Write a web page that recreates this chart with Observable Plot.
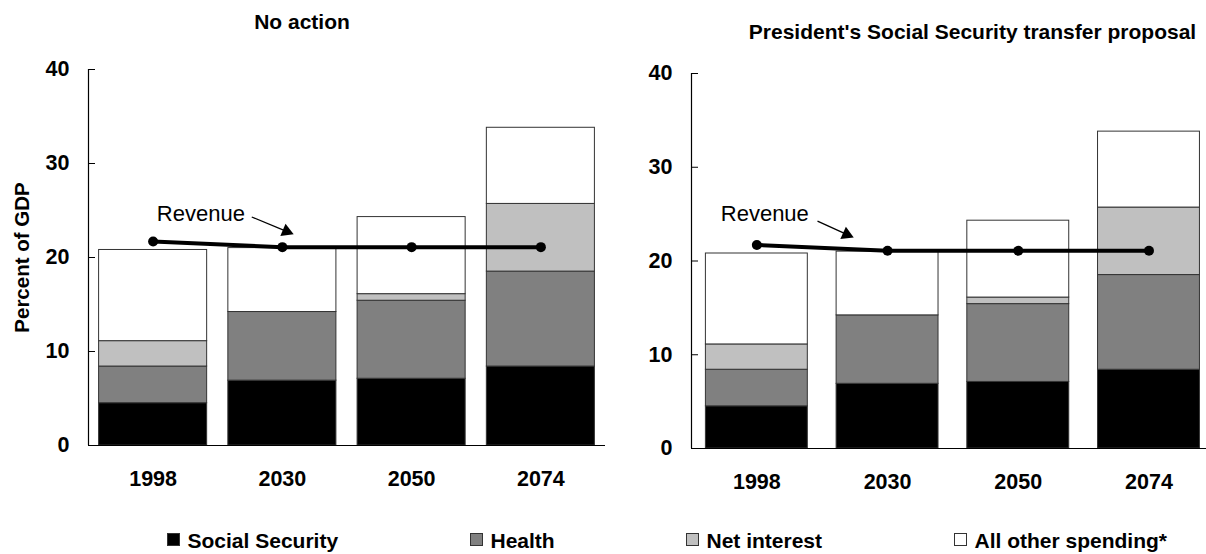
<!DOCTYPE html>
<html>
<head>
<meta charset="utf-8">
<script src="https://cdn.jsdelivr.net/npm/d3@7"></script>
<script src="https://cdn.jsdelivr.net/npm/@observablehq/plot@0.6"></script>
<style>
  html, body { margin: 0; padding: 0; background: #fff; }
  body { width: 1206px; height: 554px; overflow: hidden; position: relative;
         font-family: "Liberation Sans", Arial, sans-serif; }
  .abs { position: absolute; }
  .title { font-weight: bold; font-size: 21px; line-height: 21px; white-space: nowrap; color: #000; }
  .leg-sw { position: absolute; width: 13px; height: 13px; box-sizing: border-box; border: 1px solid #333; }
  .leg-tx { position: absolute; font-weight: bold; font-size: 21px; line-height: 21px; white-space: nowrap; color: #000; }
  svg { overflow: visible; }
</style>
</head>
<body>
<script>
// ---- Data (percent of GDP); both panels show the same values ----
const years = ["1998", "2030", "2050", "2074"];
const categories = ["Social Security", "Health", "Net interest", "All other spending*"];
const socialSecurity = [4.5, 6.9, 7.1, 8.4];
const health = [3.9, 7.3, 8.3, 10.1];
const netInterest = [2.7, 0.0, 0.7, 7.2];
const allOtherSpending = [9.7, 6.8, 8.2, 8.1];
const revenue = [21.7, 21.1, 21.1, 21.1];
const yTicks = [0, 10, 20, 30, 40];
const panelTitles = ["No action", "President's Social Security transfer proposal"];
const yAxisLabel = "Percent of GDP";
const revenueLabel = "Revenue";
const fillColors = ["#000000", "#808080", "#c0c0c0", "#ffffff"];

// long table for stacking
const series = [socialSecurity, health, netInterest, allOtherSpending];
const table = [];
years.forEach((yr, i) => {
  categories.forEach((c, k) => table.push({pos: i, year: yr, category: c, value: series[k][i]}));
});
const revenueRows = years.map((yr, i) => ({pos: i + 0.5, year: yr, value: revenue[i]}));

const FONT = "'Liberation Sans', Arial, sans-serif";

function makePanel(cfg) {
  const a = cfg.annotation;
  const marks = [
    Plot.rectY(table, {
      x: "pos", y: "value", fill: "category", interval: 1,
      insetLeft: cfg.inset, insetRight: cfg.inset,
      stroke: "#333", strokeWidth: 1
    }),
    Plot.ruleY([0], {stroke: "#000", strokeWidth: 1.2}),
    Plot.ruleX([0], {y1: 0, y2: 40, stroke: "#000", strokeWidth: 1.2}),
    Plot.axisY(yTicks, {tickSize: -7, fill: "none", stroke: "#000"}),
    Plot.axisY(yTicks, {tickSize: 0, tickPadding: 19, fontSize: 21.5, fontWeight: "bold", fill: "#000", label: null}),
    Plot.axisX(revenueRows.map(d => d.pos), {
      tickSize: 0, tickPadding: 25, fontSize: 21.5, fontWeight: "bold", fill: "#000",
      tickFormat: d => years[Math.floor(d)], label: null
    }),
    Plot.line(revenueRows, {x: "pos", y: "value", stroke: "#000", strokeWidth: 4}),
    Plot.dot(revenueRows, {x: "pos", y: "value", r: 5, fill: "#000"}),
    Plot.text([a], {x: "tx", y: "ty", text: () => revenueLabel, textAnchor: "start",
      fontSize: 22, fontWeight: "normal", fill: "#000"}),
    Plot.link([a], {x1: "ax1", y1: "ay1", x2: "ax2", y2: "ay2", stroke: "#000", strokeWidth: 1.3}),
    Plot.dot([a], {x: "ax2", y: "ay2", symbol: "triangle", r: 5, fill: "#000", rotate: a.angle})
  ];
  if (cfg.showYLabel) {
    marks.push(Plot.text([yAxisLabel], {frameAnchor: "left", textAnchor: "middle", rotate: -90, dx: -66,
      fontSize: 20.5, fontWeight: "bold", fill: "#000"}));
  }
  return Plot.plot({
    width: cfg.width, height: cfg.height,
    marginLeft: cfg.marginLeft, marginRight: cfg.marginRight,
    marginTop: cfg.marginTop, marginBottom: cfg.marginBottom,
    style: {fontFamily: FONT, fontSize: "21px", background: "transparent", overflow: "visible", color: "#000"},
    x: {type: "linear", domain: cfg.xDomain},
    y: {domain: [0, 40]},
    color: {domain: categories, range: fillColors},
    marks
  });
}

const left = makePanel({
  width: 620, height: 500, marginLeft: 88, marginRight: 15, marginTop: 69, marginBottom: 55,
  xDomain: [0, 4], inset: 10.6, showYLabel: true,
  annotation: {tx: 0.529, ty: 24.6, ax1: 1.263, ay1: 24.31, ax2: 1.532, ay2: 22.78, angle: 112.6}
});
const right = makePanel({
  width: 606, height: 500, marginLeft: 91, marginRight: 0, marginTop: 73, marginBottom: 52,
  xDomain: [0, 3.94], inset: 14.4, showYLabel: false,
  annotation: {tx: 0.224, ty: 25.0, ax1: 0.964, ay1: 24.25, ax2: 1.187, ay2: 22.84, angle: 114.4}
});

function place(el, x, y) {
  const wrap = document.createElement("div");
  wrap.className = "abs";
  wrap.style.left = x + "px";
  wrap.style.top = y + "px";
  wrap.appendChild(el);
  document.body.appendChild(wrap);
  return wrap;
}
place(left, 0, 0);
place(right, 600, 0);

// titles
const titleSpecs = [{cx: 302, top: 10.5}, {cx: 972.5, top: 20.5}];
panelTitles.forEach((t, i) => {
  const d = document.createElement("div");
  d.className = "abs title";
  d.textContent = t;
  d.style.top = titleSpecs[i].top + "px";
  d.style.left = titleSpecs[i].cx + "px";
  d.style.transform = "translateX(-50%)";
  document.body.appendChild(d);
});

// legend
const legendSwatchX = [167, 470, 686, 954];
categories.forEach((c, i) => {
  const sw = document.createElement("div");
  sw.className = "leg-sw";
  sw.style.left = legendSwatchX[i] + "px";
  sw.style.top = "533px";
  sw.style.background = fillColors[i];
  document.body.appendChild(sw);
  const tx = document.createElement("div");
  tx.className = "leg-tx";
  tx.textContent = c;
  tx.style.left = (legendSwatchX[i] + 20.5) + "px";
  tx.style.top = "530px";
  document.body.appendChild(tx);
});
</script>
</body>
</html>
